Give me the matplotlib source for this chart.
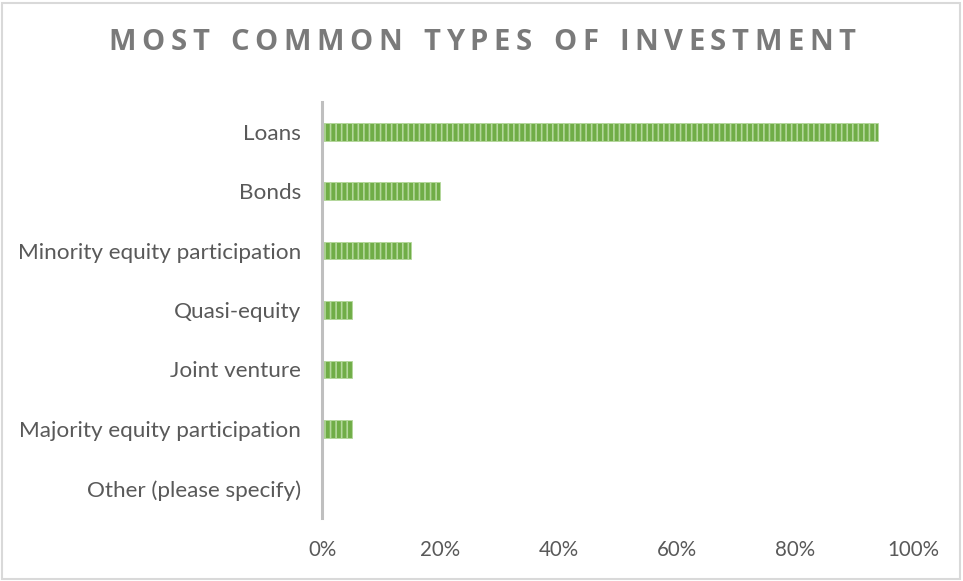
import matplotlib
matplotlib.use("Agg")
import matplotlib.pyplot as plt
from matplotlib.patches import FancyBboxPatch
from matplotlib.ticker import FuncFormatter

categories = ["Loans", "Bonds", "Minority equity participation", "Quasi-equity",
              "Joint venture", "Majority equity participation", "Other (please specify)"]
values = [0.94, 0.20, 0.15, 0.05, 0.05, 0.05, 0.0]
xticks = [0, 0.2, 0.4, 0.6, 0.8, 1.0]
title = "MOST COMMON TYPES OF INVESTMENT"

plt.rcParams['hatch.linewidth'] = 1.2
W, H = 963, 581
fig = plt.figure(figsize=(W / 100, H / 100), dpi=100)
ax = fig.add_axes([322 / W, 1 - 518 / H, (913 - 322) / W, (518 - 102) / H])

ypos = list(range(len(categories)))
ax.barh(ypos, values, height=0.3, color="#70AD47", edgecolor="#B4D89C",
        hatch="|||", linewidth=0.6, zorder=2)
ax.set_ylim(len(categories) - 0.5, -0.5)
ax.set_xlim(0, 1.0)
ax.set_yticks(ypos)
ax.set_yticklabels(categories, fontfamily="Lato", fontsize=16.2, color="#595959",
                   va="center_baseline")
ax.set_xticks(xticks)
ax.xaxis.set_major_formatter(FuncFormatter(lambda v, p: f"{v*100:.0f}%"))
for lab in ax.get_xticklabels():
    lab.set_fontfamily("Lato")
    lab.set_fontsize(14.8)
    lab.set_color("#595959")
ax.tick_params(axis="both", length=0)
ax.tick_params(axis="y", pad=15)
ax.tick_params(axis="x", pad=16)
for s in ["top", "right", "bottom"]:
    ax.spines[s].set_visible(False)
ax.spines["left"].set_color("#BFBFBF")
ax.spines["left"].set_linewidth(2.2)
ax.spines["left"].set_zorder(3)

# border
fig.patches.append(FancyBboxPatch((2 / W, 2 / H), (W - 5) / W, (H - 5) / H,
                                  boxstyle="square,pad=0", transform=fig.transFigure,
                                  fill=False, edgecolor="#D9D9D9", linewidth=1.5))

# letter-spaced title
fig.canvas.draw()
renderer = fig.canvas.get_renderer()
fs = 21
spacing = 5.5  # px extra per char
props = dict(fontfamily="Open Sans", fontweight="bold", fontsize=fs, color="#7A7A7A")
widths = []
for ch in title:
    t = fig.text(0, 0, ch if ch != " " else "n", **props)
    bb = t.get_window_extent(renderer)
    w = bb.width if ch != " " else bb.width * 0.55
    widths.append(w)
    t.remove()
total = sum(widths) + spacing * (len(title) - 1)
cx = 482
x = cx - total / 2
ty = H - 43
for ch, w in zip(title, widths):
    if ch != " ":
        fig.text(x / W, ty / H, ch, ha="left", va="center", **props)
    x += w + spacing

fig.savefig("out.png", dpi=100)
